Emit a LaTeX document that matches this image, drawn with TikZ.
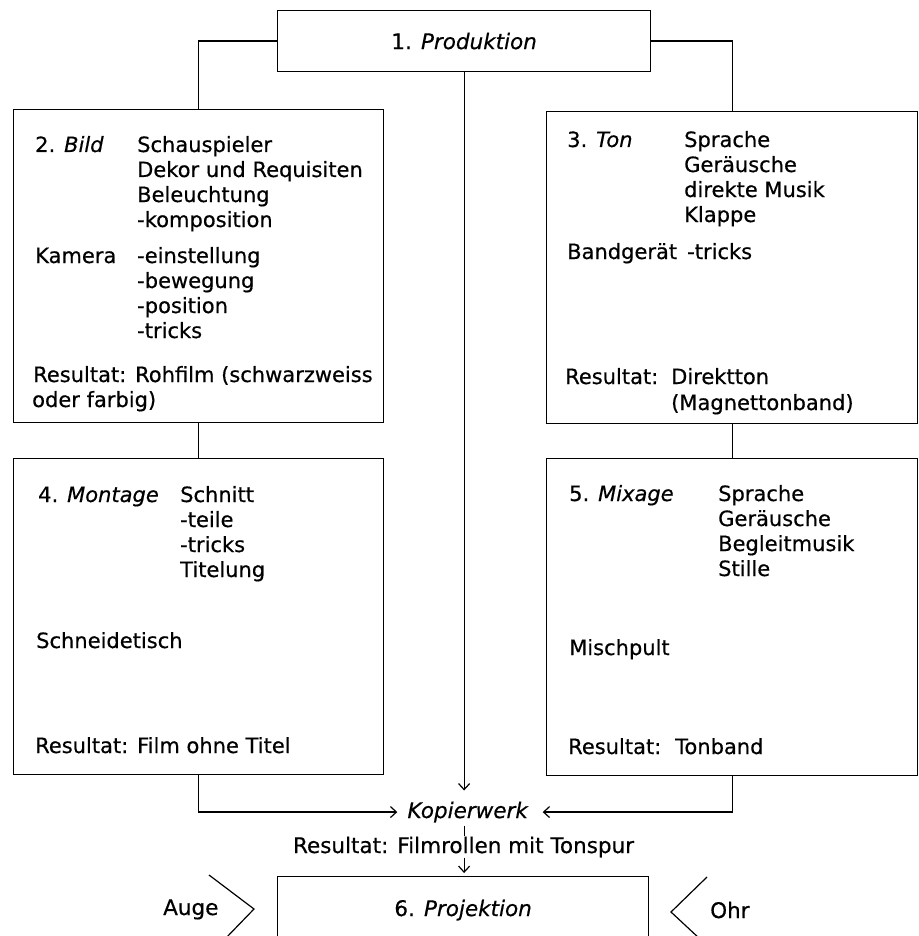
\documentclass[tikz,border=0pt]{standalone}
\usepackage{fontspec}
\setmainfont[FakeBold=0.5]{DejaVu Sans}
\usetikzlibrary{arrows.meta}
\tikzset{
  stage/.style={draw, line width=1.2pt, anchor=north west, inner sep=0pt},
  boxtext/.style={anchor=base west, inner sep=0pt, font=\fontsize{21}{25}\selectfont},
  outertext/.style={inner sep=0pt, font=\fontsize{21.5}{25}\selectfont},
  link/.style={line width=1.2pt},
  flow/.style={line width=1.2pt, -{Straight Barb[length=6pt,width=11pt]}}}

\begin{document}
\begin{tikzpicture}[x=1pt, y=-1pt]
              \clip (0,0) rectangle (918,936);
              % the stages
              \node[stage, outertext, minimum width=373pt, minimum height=61pt] (prod) at (277,10) {1. \textit{Produktion}};
              \node[stage, minimum width=370pt, minimum height=313pt] (bild) at (13,109) {};
              \node[stage, minimum width=371pt, minimum height=312pt] (ton) at (546,111) {};
              \node[stage, minimum width=370pt, minimum height=316pt] (montage) at (13,458) {};
              \node[stage, minimum width=371pt, minimum height=317pt] (mixage) at (546,458) {};
              \node[stage, outertext, minimum width=371pt, minimum height=67pt] (proj) at (277,876) {6. \textit{Projektion}};
              % 2. Bild
              \node[boxtext] (bild-t) at (35,152) {2. \textit{Bild}};
              \foreach \t [count=\i from 0] in {Schauspieler, Dekor und Requisiten, Beleuchtung, -komposition}
                \node[boxtext] (bild-a\i) at (137,152+25*\i) {\t};
              \node[boxtext] (bild-k) at (35,263) {Kamera};
              \foreach \t [count=\i from 0] in {-einstellung, -bewegung, -position, -tricks}
                \node[boxtext] (bild-b\i) at (137,263+25*\i) {\t};
              \node[boxtext] (bild-r1) at (33,382) {Resultat: Rohfilm (schwarzweiss};
              \node[boxtext] (bild-r2) at (32,407) {oder farbig)};
              % 3. Ton
              \node[boxtext] (ton-t) at (567,147) {3. \textit{Ton}};
              \foreach \t [count=\i from 0] in {Sprache, Geräusche, direkte Musik, Klappe}
                \node[boxtext] (ton-a\i) at (684,147+25*\i) {\t};
              \node[boxtext] (ton-b) at (567,259) {Bandgerät};
              \node[boxtext] (ton-b1) at (687,259) {-tricks};
              \node[boxtext] (ton-r) at (565,384) {Resultat:};
              \node[boxtext] (ton-r1) at (671,384) {Direktton};
              \node[boxtext] (ton-r2) at (671,410) {(Magnettonband)};
              % 4. Montage
              \node[boxtext] (montage-t) at (38,502) {4. \textit{Montage}};
              \foreach \t [count=\i from 0] in {Schnitt, -teile, -tricks, Titelung}
                \node[boxtext] (montage-a\i) at (180,502+25*\i) {\t};
              \node[boxtext] (montage-s) at (36,648) {Schneidetisch};
              \node[boxtext] (montage-r) at (35,753) {Resultat: Film ohne Titel};
              % 5. Mixage
              \node[boxtext] (mixage-t) at (569,501) {5. \textit{Mixage}};
              \foreach \t [count=\i from 0] in {Sprache, Geräusche, Begleitmusik, Stille}
                \node[boxtext] (mixage-a\i) at (718,501+25*\i) {\t};
              \node[boxtext] (mixage-m) at (569,655) {Mischpult};
              \node[boxtext] (mixage-r) at (568,754) {Resultat:};
              \node[boxtext] (mixage-r1) at (675,754) {Tonband};
              % copying and projection
              \node[outertext, anchor=base, inner xsep=10pt, inner ysep=3pt] (kopier) at (468,818) {\textit{Kopierwerk}};
              \node[outertext, anchor=base] (kres) at (463.5,853) {Resultat: Filmrollen mit Tonspur};
              \node[outertext, anchor=base west] (auge) at (163,915) {Auge};
              \node[outertext, anchor=base west] (ohr) at (710,918) {Ohr};
              % connectors
              \draw[link] (prod.west) -| (bild.north);
              \draw[link] (prod.east) -| (ton.north);
              \draw[link] (bild.south) -- (montage.north);
              \draw[link] (ton.south) -- (mixage.north);
              \draw[flow] (prod.south) -- ([yshift=8pt]prod.south |- kopier.north);
              \draw[flow] (montage.south) |- (kopier.west);
              \draw[flow] (mixage.south) |- ([xshift=4pt]kopier.east);
              \draw[link] (prod.south |- kopier.south) -- (prod.south |- kres.north);
              \draw[flow] (prod.south |- kres.south) -- ([yshift=3pt]prod.south |- proj.north);
              % eye and ear
              \draw[link] (209,875) -- (254,909) -- (224,940);
              \draw[link] (707,877) -- (671,912) -- (700,939);
\end{tikzpicture}
\end{document}
